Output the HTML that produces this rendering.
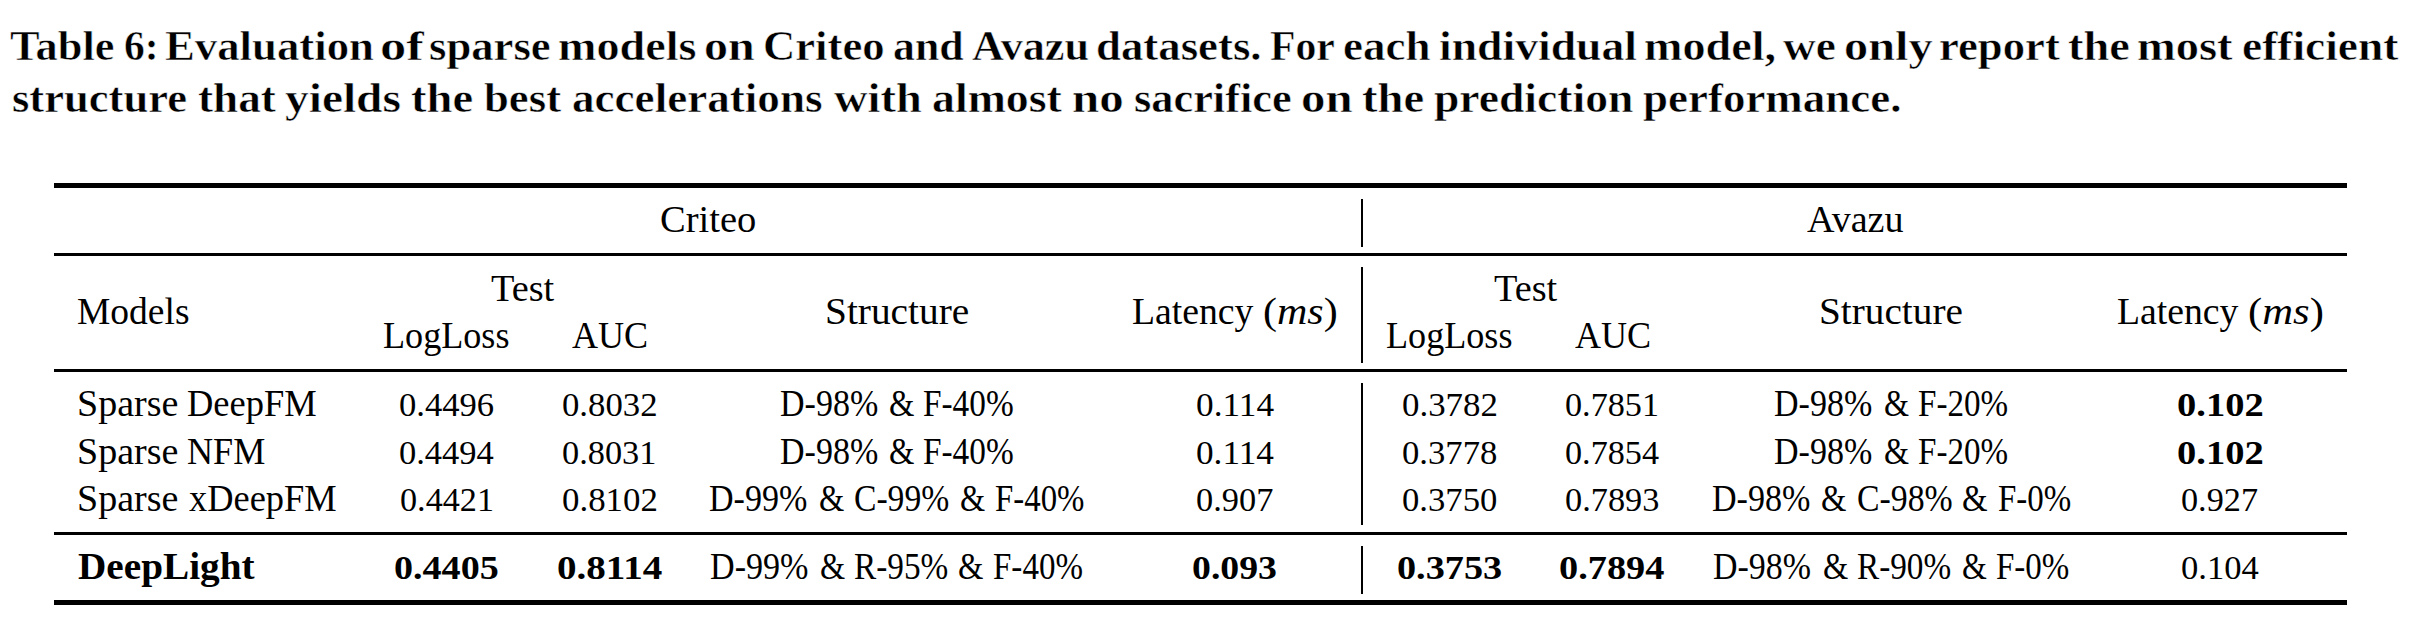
<!DOCTYPE html>
<html><head><meta charset="utf-8"><title>Table 6</title>
<style>
html,body{margin:0;padding:0;background:#fff;}
body{width:2418px;height:632px;position:relative;overflow:hidden;}
.t{position:absolute;white-space:nowrap;line-height:1;font-family:"Liberation Serif",serif;color:#000;transform-origin:0 0;}
.r{font-size:37px;}
.b{font-size:37px;font-weight:bold;}
.cap{font-size:42px;font-weight:bold;-webkit-text-stroke:0.5px #fff;}
.n{font-size:34.5px;}
.k{position:absolute;background:#000;}
</style></head><body>
<div class="k" style="left:54px;top:183px;width:2293px;height:5px"></div><div class="k" style="left:54px;top:253px;width:2293px;height:3px"></div><div class="k" style="left:54px;top:369px;width:2293px;height:3px"></div><div class="k" style="left:54px;top:532px;width:2293px;height:3px"></div><div class="k" style="left:54px;top:600px;width:2293px;height:5px"></div><div class="k" style="left:1361px;top:199px;width:2px;height:48px"></div><div class="k" style="left:1361px;top:267px;width:2px;height:96px"></div><div class="k" style="left:1361px;top:383px;width:2px;height:142px"></div><div class="k" style="left:1361px;top:546px;width:2px;height:48px"></div>
<div class="t cap" style="left:10.24px;top:25.00px;transform:scaleX(1.0567)">Table</div>
<div class="t cap" style="left:123.92px;top:25.00px;transform:scaleX(0.9897)">6:</div>
<div class="t cap" style="left:164.83px;top:25.00px;transform:scaleX(1.0655)">Evaluation</div>
<div class="t cap" style="left:380.00px;top:25.00px;transform:scaleX(1.2515)">of</div>
<div class="t cap" style="left:428.67px;top:25.00px;transform:scaleX(1.0640)">sparse</div>
<div class="t cap" style="left:557.50px;top:25.00px;transform:scaleX(1.0984)">models</div>
<div class="t cap" style="left:703.81px;top:25.00px;transform:scaleX(1.1439)">on</div>
<div class="t cap" style="left:762.67px;top:25.00px;transform:scaleX(1.0640)">Criteo</div>
<div class="t cap" style="left:892.91px;top:25.00px;transform:scaleX(1.0431)">and</div>
<div class="t cap" style="left:972.15px;top:25.00px;transform:scaleX(1.0523)">Avazu</div>
<div class="t cap" style="left:1096.17px;top:25.00px;transform:scaleX(1.0669)">datasets.</div>
<div class="t cap" style="left:1269.61px;top:25.00px;transform:scaleX(0.9937)">For</div>
<div class="t cap" style="left:1342.86px;top:25.00px;transform:scaleX(1.0709)">each</div>
<div class="t cap" style="left:1439.01px;top:25.00px;transform:scaleX(1.0872)">individual</div>
<div class="t cap" style="left:1644.10px;top:25.00px;transform:scaleX(1.1000)">model,</div>
<div class="t cap" style="left:1783.42px;top:25.00px;transform:scaleX(1.0787)">we</div>
<div class="t cap" style="left:1843.70px;top:25.00px;transform:scaleX(1.1500)">only</div>
<div class="t cap" style="left:1938.57px;top:25.00px;transform:scaleX(1.0640)">report</div>
<div class="t cap" style="left:2068.10px;top:25.00px;transform:scaleX(1.1037)">the</div>
<div class="t cap" style="left:2137.39px;top:25.00px;transform:scaleX(1.1060)">most</div>
<div class="t cap" style="left:2241.54px;top:25.00px;transform:scaleX(1.0810)">efficient</div>
<div class="t cap" style="left:11.78px;top:77.20px;transform:scaleX(1.0617)">structure</div>
<div class="t cap" style="left:197.82px;top:77.20px;transform:scaleX(1.0761)">that</div>
<div class="t cap" style="left:285.47px;top:77.20px;transform:scaleX(1.1290)">yields</div>
<div class="t cap" style="left:411.09px;top:77.20px;transform:scaleX(1.1093)">the</div>
<div class="t cap" style="left:484.04px;top:77.20px;transform:scaleX(1.0648)">best</div>
<div class="t cap" style="left:571.55px;top:77.20px;transform:scaleX(1.0743)">accelerations</div>
<div class="t cap" style="left:834.49px;top:77.20px;transform:scaleX(1.1052)">with</div>
<div class="t cap" style="left:932.42px;top:77.20px;transform:scaleX(1.0915)">almost</div>
<div class="t cap" style="left:1072.07px;top:77.20px;transform:scaleX(1.1659)">no</div>
<div class="t cap" style="left:1133.89px;top:77.20px;transform:scaleX(1.0562)">sacrifice</div>
<div class="t cap" style="left:1300.97px;top:77.20px;transform:scaleX(1.1634)">on</div>
<div class="t cap" style="left:1362.09px;top:77.20px;transform:scaleX(1.1093)">the</div>
<div class="t cap" style="left:1434.31px;top:77.20px;transform:scaleX(1.0857)">prediction</div>
<div class="t cap" style="left:1643.33px;top:77.20px;transform:scaleX(1.0707)">performance.</div>
<div class="t r" style="left:659.96px;top:200.80px;transform:scaleX(1.0411)">Criteo</div>
<div class="t r" style="left:1807.00px;top:200.80px;transform:scaleX(1.0290)">Avazu</div>
<div class="t r" style="left:77.49px;top:293.10px;transform:scaleX(1.0138)">Models</div>
<div class="t r" style="left:491.46px;top:270.00px;transform:scaleX(1.0350)">Test</div>
<div class="t r" style="left:383.32px;top:316.70px;transform:scaleX(0.9764)">LogLoss</div>
<div class="t r" style="left:572.20px;top:316.70px;transform:scaleX(0.9750)">AUC</div>
<div class="t r" style="left:1493.96px;top:270.00px;transform:scaleX(1.0350)">Test</div>
<div class="t r" style="left:1385.82px;top:316.70px;transform:scaleX(0.9764)">LogLoss</div>
<div class="t r" style="left:1574.70px;top:316.70px;transform:scaleX(0.9750)">AUC</div>
<div class="t r" style="left:824.57px;top:293.10px;transform:scaleX(1.0632)">Structure</div>
<div class="t r" style="left:1132.38px;top:293.10px;transform:scaleX(1.0195)">Latency</div>
<div class="t r" style="left:1262.93px;top:293.10px;transform:scaleX(1.1355)">(<i>ms</i>)</div>
<div class="t r" style="left:1818.68px;top:293.10px;transform:scaleX(1.0609)">Structure</div>
<div class="t r" style="left:2117.18px;top:293.10px;transform:scaleX(1.0195)">Latency</div>
<div class="t r" style="left:2247.69px;top:293.10px;transform:scaleX(1.1532)">(<i>ms</i>)</div>
<div class="t r" style="left:76.85px;top:384.70px;transform:scaleX(1.0271)">Sparse</div>
<div class="t r" style="left:187.21px;top:384.70px;transform:scaleX(0.9862)">DeepFM</div>
<div class="t r n" style="left:398.90px;top:386.70px;transform:scaleX(1.0032)">0.4496</div>
<div class="t r n" style="left:562.39px;top:386.70px;transform:scaleX(1.0065)">0.8032</div>
<div class="t r" style="left:780.38px;top:384.70px;transform:scaleX(0.9190)">D-98%</div>
<div class="t r" style="left:888.62px;top:384.70px;transform:scaleX(0.8815)">&amp;</div>
<div class="t r" style="left:923.10px;top:384.70px;transform:scaleX(0.9000)">F-40%</div>
<div class="t r n" style="left:1196.08px;top:386.70px;transform:scaleX(1.0227)">0.114</div>
<div class="t r n" style="left:1401.99px;top:386.70px;transform:scaleX(1.0109)">0.3782</div>
<div class="t r n" style="left:1565.11px;top:386.70px;transform:scaleX(0.9913)">0.7851</div>
<div class="t r" style="left:1774.38px;top:384.70px;transform:scaleX(0.9190)">D-98%</div>
<div class="t r" style="left:1883.63px;top:384.70px;transform:scaleX(0.8704)">&amp;</div>
<div class="t r" style="left:1918.11px;top:384.70px;transform:scaleX(0.8949)">F-20%</div>
<div class="t b n" style="left:2176.68px;top:386.70px;transform:scaleX(1.1160)">0.102</div>
<div class="t r" style="left:76.85px;top:433.00px;transform:scaleX(1.0271)">Sparse</div>
<div class="t r" style="left:186.82px;top:433.00px;transform:scaleX(0.9756)">NFM</div>
<div class="t r n" style="left:398.90px;top:435.00px;transform:scaleX(1.0000)">0.4494</div>
<div class="t r n" style="left:562.01px;top:435.00px;transform:scaleX(0.9946)">0.8031</div>
<div class="t r" style="left:780.38px;top:433.00px;transform:scaleX(0.9190)">D-98%</div>
<div class="t r" style="left:888.62px;top:433.00px;transform:scaleX(0.8815)">&amp;</div>
<div class="t r" style="left:923.10px;top:433.00px;transform:scaleX(0.9000)">F-40%</div>
<div class="t r n" style="left:1195.98px;top:435.00px;transform:scaleX(1.0213)">0.114</div>
<div class="t r n" style="left:1402.10px;top:435.00px;transform:scaleX(1.0043)">0.3778</div>
<div class="t r n" style="left:1565.31px;top:435.00px;transform:scaleX(0.9904)">0.7854</div>
<div class="t r" style="left:1774.38px;top:433.00px;transform:scaleX(0.9190)">D-98%</div>
<div class="t r" style="left:1883.63px;top:433.00px;transform:scaleX(0.8704)">&amp;</div>
<div class="t r" style="left:1918.11px;top:433.00px;transform:scaleX(0.8949)">F-20%</div>
<div class="t b n" style="left:2176.68px;top:435.00px;transform:scaleX(1.1160)">0.102</div>
<div class="t r" style="left:76.85px;top:479.60px;transform:scaleX(1.0271)">Sparse</div>
<div class="t r" style="left:188.80px;top:479.60px;transform:scaleX(0.9846)">xDeepFM</div>
<div class="t r n" style="left:399.61px;top:481.60px;transform:scaleX(0.9913)">0.4421</div>
<div class="t r n" style="left:561.99px;top:481.60px;transform:scaleX(1.0109)">0.8102</div>
<div class="t r" style="left:709.28px;top:479.60px;transform:scaleX(0.9200)">D-99%</div>
<div class="t r" style="left:818.52px;top:479.60px;transform:scaleX(0.8778)">&amp;</div>
<div class="t r" style="left:854.29px;top:479.60px;transform:scaleX(0.9087)">C-99%</div>
<div class="t r" style="left:959.53px;top:479.60px;transform:scaleX(0.8741)">&amp;</div>
<div class="t r" style="left:994.51px;top:479.60px;transform:scaleX(0.8879)">F-40%</div>
<div class="t r n" style="left:1196.00px;top:481.60px;transform:scaleX(0.9961)">0.907</div>
<div class="t r n" style="left:1402.10px;top:481.60px;transform:scaleX(1.0043)">0.3750</div>
<div class="t r n" style="left:1565.31px;top:481.60px;transform:scaleX(0.9946)">0.7893</div>
<div class="t r" style="left:1712.18px;top:479.60px;transform:scaleX(0.9210)">D-98%</div>
<div class="t r" style="left:1821.42px;top:479.60px;transform:scaleX(0.8815)">&amp;</div>
<div class="t r" style="left:1857.09px;top:479.60px;transform:scaleX(0.9126)">C-98%</div>
<div class="t r" style="left:1962.31px;top:479.60px;transform:scaleX(0.8889)">&amp;</div>
<div class="t r" style="left:1997.51px;top:479.60px;transform:scaleX(0.8912)">F-0%</div>
<div class="t r n" style="left:2180.91px;top:481.60px;transform:scaleX(0.9921)">0.927</div>
<div class="t b" style="left:77.74px;top:547.50px;transform:scaleX(1.0608)">DeepLight</div>
<div class="t b n" style="left:393.80px;top:549.50px;transform:scaleX(1.1043)">0.4405</div>
<div class="t b n" style="left:556.97px;top:549.50px;transform:scaleX(1.1326)">0.8114</div>
<div class="t r" style="left:710.38px;top:547.50px;transform:scaleX(0.9219)">D-99%</div>
<div class="t r" style="left:819.63px;top:547.50px;transform:scaleX(0.8741)">&amp;</div>
<div class="t r" style="left:854.30px;top:547.50px;transform:scaleX(0.8990)">R-95%</div>
<div class="t r" style="left:958.32px;top:547.50px;transform:scaleX(0.8815)">&amp;</div>
<div class="t r" style="left:993.01px;top:547.50px;transform:scaleX(0.8929)">F-40%</div>
<div class="t b n" style="left:1192.21px;top:549.50px;transform:scaleX(1.0947)">0.093</div>
<div class="t b n" style="left:1396.79px;top:549.50px;transform:scaleX(1.1086)">0.3753</div>
<div class="t b n" style="left:1559.49px;top:549.50px;transform:scaleX(1.1106)">0.7894</div>
<div class="t r" style="left:1713.38px;top:547.50px;transform:scaleX(0.9171)">D-98%</div>
<div class="t r" style="left:1822.52px;top:547.50px;transform:scaleX(0.8778)">&amp;</div>
<div class="t r" style="left:1857.40px;top:547.50px;transform:scaleX(0.8981)">R-90%</div>
<div class="t r" style="left:1961.84px;top:547.50px;transform:scaleX(0.8630)">&amp;</div>
<div class="t r" style="left:1996.31px;top:547.50px;transform:scaleX(0.8925)">F-0%</div>
<div class="t r n" style="left:2180.90px;top:549.50px;transform:scaleX(1.0026)">0.104</div>
</body></html>
